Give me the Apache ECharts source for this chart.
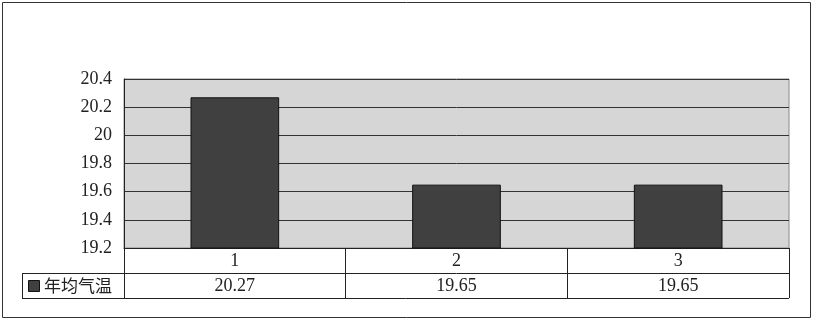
<!DOCTYPE html>
<html><head><meta charset="utf-8">
<script src="https://cdn.jsdelivr.net/npm/echarts@6/dist/echarts.min.js"></script>
<style>html,body{margin:0;padding:0;background:#fff}#c{width:814px;height:323px}</style>
</head><body><div id="c"></div>
<script>
const categories = ['1', '2', '3'];
const seriesName = '年均气温';
const values = [20.27, 19.65, 19.65];
const yMin = 19.2, yMax = 20.4, yStep = 0.2;

const G = {left: 124, right: 25, top: 79, bottom: 75};
const W = 814, H = 323;
const gx0 = G.left, gx1 = W - G.right, gy1 = H - G.bottom;
const row1 = 25, row2 = 25;
const serif = '"Liberation Serif", "DejaVu Serif", serif';
const cjk = '"Noto Sans CJK SC", sans-serif';

const chart = echarts.init(document.getElementById('c'), null, {renderer: 'canvas'});
chart.setOption({
  animation: false,
  backgroundColor: '#fff',
  grid: {left: G.left, right: G.right, top: G.top, bottom: G.bottom, show: true,
         backgroundColor: '#d6d6d6', borderColor: '#888', borderWidth: 1},
  xAxis: [
    {type: 'category', data: categories, position: 'bottom',
     axisLine: {show: true, lineStyle: {color: '#222', width: 1}},
     axisTick: {show: true, length: row1 + row2, lineStyle: {color: '#222'}},
     axisLabel: {fontFamily: serif, fontSize: 18, color: '#222', margin: 4}},
    {type: 'category', data: values.map(v => v.toFixed(2)), position: 'bottom', offset: row1,
     axisLine: {show: false}, axisTick: {show: false},
     axisLabel: {fontFamily: serif, fontSize: 18, color: '#222', margin: 4}}
  ],
  yAxis: {type: 'value', min: yMin, max: yMax, interval: yStep,
    axisLine: {show: true, lineStyle: {color: '#222'}},
    axisTick: {show: false},
    splitLine: {show: true, lineStyle: {color: '#333', width: 1}},
    axisLabel: {fontFamily: serif, fontSize: 18, color: '#222', margin: 12,
      formatter: v => (Math.round(v * 10) / 10).toString()}},
  series: [{type: 'bar', name: seriesName, data: values, barWidth: '40%',
    itemStyle: {color: '#404040', borderColor: '#111', borderWidth: 1}}],
  graphic: [
    {type: 'rect', shape: {x: 2.5, y: 2.5, width: 808, height: 315},
     style: {fill: null, stroke: '#333', lineWidth: 1}, silent: true},
    {type: 'line', shape: {x1: gx0, y1: gy1 + row1 + 0.5, x2: gx1, y2: gy1 + row1 + 0.5},
     style: {stroke: '#222', lineWidth: 1}},
    {type: 'line', shape: {x1: 22, y1: gy1 + row1 + 0.5, x2: gx0, y2: gy1 + row1 + 0.5},
     style: {stroke: '#222', lineWidth: 1}},
    {type: 'line', shape: {x1: 22, y1: gy1 + row1 + row2 + 0.5, x2: gx1, y2: gy1 + row1 + row2 + 0.5},
     style: {stroke: '#222', lineWidth: 1}},
    {type: 'line', shape: {x1: 22.5, y1: gy1 + row1, x2: 22.5, y2: gy1 + row1 + row2},
     style: {stroke: '#222', lineWidth: 1}},
    {type: 'rect', shape: {x: 28.5, y: gy1 + row1 + 7.5, width: 11, height: 11},
     style: {fill: '#404040', stroke: '#111', lineWidth: 1}},
    {type: 'text', x: 44, y: gy1 + row1 + row2 / 2,
     style: {text: seriesName, font: '17px ' + cjk, fill: '#222', textVerticalAlign: 'middle'}}
  ]
});
</script></body></html>
